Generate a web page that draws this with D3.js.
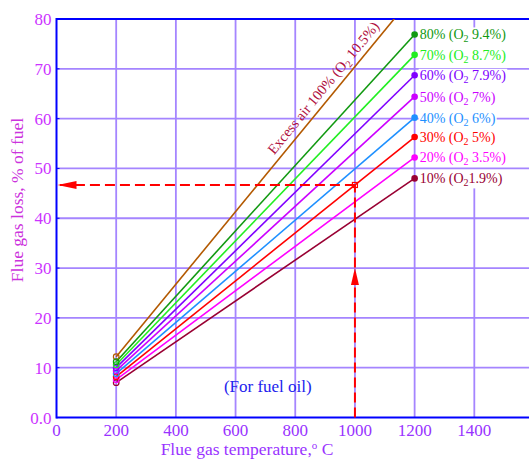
<!DOCTYPE html>
<html><head><meta charset="utf-8">
<script src="https://cdn.jsdelivr.net/npm/d3@7"></script>
<style>html,body{margin:0;padding:0;background:#fff;overflow:hidden}</style>
</head><body><svg id="c" width="529" height="459"></svg>
<script>
// ---------- data ----------
const xTicks = [0, 200, 400, 600, 800, 1000, 1200, 1400];
const yTicks = [0, 10, 20, 30, 40, 50, 60, 70, 80];
const yTickLabels = ["0.0", "10", "20", "30", "40", "50", "60", "70", "80"];
const excessPct = ["10%", "20%", "30%", "40%", "50%", "60%", "70%", "80%"];
const o2Text = ["1.9%", " 3.5%", " 5%", " 6%", " 7%", " 7.9%", " 8.7%", " 9.4%"];
const tempRange = [200, 1200];
const lossAt200 = [7.0, 7.6, 8.2, 8.8, 9.4, 10.0, 10.6, 11.2];
const lossAt1200 = [48.0, 52.2, 56.3, 60.2, 64.4, 68.7, 72.8, 76.9];
const excess100Loss = [12.2, 85.0];
const excess100Label = ["Excess air 100% (O", "2", " 10.5%)"];
const readTemp = 1000;
const readSeries = 2;          // the 30% line is read at 1000 °C
const arrowMarkLoss = 30;
const noteText = "(For fuel oil)";
const notePos = [708, 5.2];
const excessLabelTemp = 745;

// ---------- styles ----------
const lineColors = ["#990033", "#ff00ff", "#ff0000", "#1e90ff", "#cc00ff", "#8000ff", "#22ee22", "#119911"];
const excessColor = "#b35900";
const excessLabelColor = "#b01040";
const gridColor = "#a585ff";
const axisColor = "#0000ff";
const serif = "'Liberation Serif','Times New Roman',serif";

const svg = d3.select("#c");
const x = d3.scaleLinear([0, 1600], [56.5, 534]);
const y = d3.scaleLinear([0, 80], [417.5, 19]);
const W = 529;

svg.append("defs").append("clipPath").attr("id", "clip")
  .append("rect").attr("x", x(0)).attr("y", y(80)).attr("width", W - x(0)).attr("height", y(0) - y(80));

// vertical grid
svg.append("g").selectAll("line").data(xTicks.filter(d => d > 0)).join("line")
  .attr("x1", d => x(d)).attr("x2", d => x(d)).attr("y1", y(0)).attr("y2", y(80))
  .attr("stroke", gridColor).attr("stroke-width", 1.8);

const colRect = svg.append("rect").attr("fill", "#fff");
const hGrid = svg.append("g");
hGrid.selectAll("line").data(yTicks.filter(d => d > 0 && d < 80)).join("line")
  .attr("x1", x(0)).attr("x2", W).attr("y1", d => y(d)).attr("y2", d => y(d))
  .attr("stroke", gridColor).attr("stroke-width", 1.8);

// axes lines
const axG = svg.append("g").attr("stroke", axisColor).attr("stroke-width", 2);
axG.append("line").attr("x1", x(0)).attr("x2", x(0)).attr("y1", y(0) + 1).attr("y2", y(80) - 1);
axG.append("line").attr("x1", x(0)).attr("x2", W).attr("y1", y(0)).attr("y2", y(0));
axG.append("line").attr("x1", x(0)).attr("x2", W).attr("y1", y(80)).attr("y2", y(80));

// y tick marks (small, inward)
svg.append("g").selectAll("line").data(yTicks).join("line")
  .attr("x1", x(0)).attr("x2", x(0) + 3).attr("y1", d => y(d)).attr("y2", d => y(d))
  .attr("stroke", axisColor).attr("stroke-width", 1);

// tick labels
svg.append("g").selectAll("text").data(yTicks).join("text")
  .attr("x", x(0) - 5).attr("y", d => y(d) + 6).attr("text-anchor", "end")
  .attr("font-family", serif).attr("font-size", 17).attr("fill", "#cc33ff")
  .text((d, i) => yTickLabels[i]);
svg.append("g").selectAll("text").data(xTicks).join("text")
  .attr("x", d => x(d)).attr("y", y(0) + 18).attr("text-anchor", "middle")
  .attr("font-family", serif).attr("font-size", 17).attr("fill", "#9933ff")
  .text(d => d);

// axis titles
const xt = svg.append("text").attr("x", 247).attr("y", 455).attr("text-anchor", "middle")
  .attr("font-family", serif).attr("font-size", 17.5).attr("fill", "#9933ff");
xt.append("tspan").text("Flue gas temperature,");
xt.append("tspan").attr("font-size", 11).attr("dy", -6).text("o");
xt.append("tspan").attr("dy", 6).text(" C");
svg.append("text").attr("transform", "translate(23,200) rotate(-90)").attr("text-anchor", "middle")
  .attr("font-family", serif).attr("font-size", 17.5).attr("fill", "#cc33dd")
  .text("Flue gas loss, % of fuel");

// note
svg.append("text").attr("x", x(notePos[0])).attr("y", y(notePos[1])).attr("text-anchor", "middle")
  .attr("font-family", serif).attr("font-size", 17).attr("fill", "#2222ee").text(noteText);

// series
const plot = svg.append("g").attr("clip-path", "url(#clip)");
const series = excessPct.map((p, i) => ({
  i, pts: [[tempRange[0], lossAt200[i]], [tempRange[1], lossAt1200[i]]]
}));
const line = d3.line().x(d => x(d[0])).y(d => y(d[1]));
plot.append("path").datum([[tempRange[0], excess100Loss[0]], [tempRange[1], excess100Loss[1]]])
  .attr("d", line).attr("stroke", excessColor).attr("stroke-width", 1.6).attr("fill", "none");
plot.selectAll("path.s").data(series).join("path").attr("class", "s")
  .attr("d", d => line(d.pts)).attr("stroke", d => lineColors[d.i]).attr("stroke-width", 1.6).attr("fill", "none");

// open circles at 200
svg.append("circle").attr("cx", x(tempRange[0])).attr("cy", y(excess100Loss[0])).attr("r", 2.8)
  .attr("fill", "none").attr("stroke", excessColor).attr("stroke-width", 1.2);
svg.selectAll("circle.o").data(series).join("circle").attr("class", "o")
  .attr("cx", d => x(d.pts[0][0])).attr("cy", d => y(d.pts[0][1])).attr("r", 2.8)
  .attr("fill", "none").attr("stroke", d => lineColors[d.i]).attr("stroke-width", 1.2);
// filled dots at 1200
svg.selectAll("circle.f").data(series).join("circle").attr("class", "f")
  .attr("cx", d => x(d.pts[1][0])).attr("cy", d => y(d.pts[1][1])).attr("r", 3.3)
  .attr("fill", d => lineColors[d.i]);

// labels at right
const lblG = svg.append("g");
const boxes = [];
series.forEach(d => {
  const g = lblG.append("g");
  const t = g.append("text").attr("x", x(tempRange[1]) + 5).attr("y", y(d.pts[1][1]) + 5)
    .attr("font-family", serif).attr("font-size", 14).attr("fill", lineColors[d.i]);
  t.append("tspan").text(excessPct[d.i] + " (O");
  t.append("tspan").attr("font-size", 10).attr("dy", 3).text("2");
  t.append("tspan").attr("dy", -3).text(o2Text[d.i] + ")");
  const b = t.node().getBBox();
  boxes.push(b);
  g.insert("rect", "text").attr("x", b.x - 1).attr("y", y(d.pts[1][1]) - 6.5)
    .attr("width", b.width + 2).attr("height", 13).attr("fill", "#fff");
});
const colTop = d3.min(boxes, b => b.y), colBot = d3.max(boxes, b => b.y + b.height);
colRect.attr("x", x(1400) - 3).attr("y", colTop).attr("width", 6).attr("height", colBot - colTop);

// excess label rotated along its line
const ang = Math.atan2(y(excess100Loss[1]) - y(excess100Loss[0]), x(tempRange[1]) - x(tempRange[0])) * 180 / Math.PI;
const eL = excess100Loss[0] + (excess100Loss[1] - excess100Loss[0]) * (excessLabelTemp - tempRange[0]) / (tempRange[1] - tempRange[0]);
const et = svg.append("text")
  .attr("transform", `translate(${x(excessLabelTemp)},${y(eL)}) rotate(${ang})`)
  .attr("y", -6).attr("font-family", serif).attr("font-size", 14.5).attr("fill", excessLabelColor);
et.append("tspan").text(excess100Label[0]);
et.append("tspan").attr("font-size", 10).attr("dy", 3).text(excess100Label[1]);
et.append("tspan").attr("dy", -3).text(excess100Label[2]);

// reading arrows
const s = series[readSeries];
const readLoss = s.pts[0][1] + (s.pts[1][1] - s.pts[0][1]) * (readTemp - s.pts[0][0]) / (s.pts[1][0] - s.pts[0][0]);
const arr = svg.append("g").attr("stroke", "#ff0000").attr("stroke-width", 2).attr("fill", "none");
arr.append("line").attr("x1", x(readTemp)).attr("x2", x(readTemp)).attr("y1", y(0)).attr("y2", y(readLoss))
  .attr("stroke-dasharray", "10,5");
arr.append("line").attr("x1", x(readTemp)).attr("x2", x(0) + 2).attr("y1", y(readLoss)).attr("y2", y(readLoss))
  .attr("stroke-dasharray", "10,5");
arr.append("rect").attr("x", x(readTemp) - 2.5).attr("y", y(readLoss) - 2.5).attr("width", 5).attr("height", 5)
  .attr("stroke-width", 1.2);
const ah = svg.append("g").attr("fill", "#ff0000");
const vx = x(readTemp), vy = y(arrowMarkLoss);
ah.append("path").attr("d", `M${vx},${vy} L${vx - 4},${vy + 17} L${vx + 4},${vy + 17} Z`);
const hx = x(0) + 1, hy = y(readLoss);
ah.append("path").attr("d", `M${hx},${hy} L${hx + 19},${hy - 4} L${hx + 19},${hy + 4} Z`);
</script></body></html>
